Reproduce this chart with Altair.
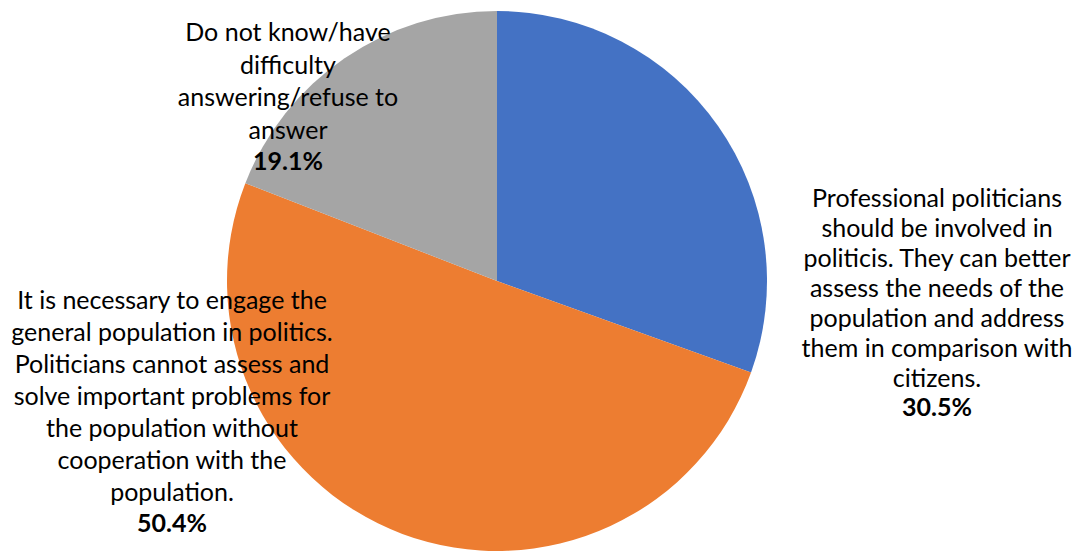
import altair as alt
import pandas as pd

categories = [
    "Professional politicians should be involved in politicis",
    "It is necessary to engage the general population in politics",
    "Do not know/have difficulty answering/refuse to answer",
]
shares = [30.5, 50.4, 19.1]
colors = ["#4472C4", "#ED7D31", "#A5A5A5"]
order = [1, 2, 3]

label_right = ["Professional politicians", "should be involved in", "politicis. They can better",
               "assess the needs of the", "population and address", "them in comparison with", "citizens."]
label_left = ["It is necessary to engage the", "general population in politics.",
              "Politicians cannot assess and", "solve important problems for",
              "the population without", "cooperation with the", "population."]
label_gray = ["Do not know/have", "difficulty", "answering/refuse to", "answer"]
pct_labels = ["30.5%", "50.4%", "19.1%"]

df = pd.DataFrame({"category": categories, "share": shares, "order": order})

OX, OY = 8, 8  # page margin offset
FONT = "Lato"
FS = 25

pie = alt.Chart(df).mark_arc(stroke="white", strokeWidth=0).encode(
    theta=alt.Theta("share:Q", stack=True),
    order=alt.Order("order:Q"),
    color=alt.Color("category:N", scale=alt.Scale(domain=categories, range=colors), legend=None),
    x=alt.value(497 - OX),
    y=alt.value(281 - OY),
    radius=alt.value(270),
)

def block(lines, cx, cy, lh):
    return alt.Chart(df).transform_filter("datum.order == 1").mark_text(
        text=lines, font=FONT, fontSize=FS, align="center", baseline="middle",
        lineHeight=lh, color="#000000"
    ).encode(x=alt.value(cx - OX), y=alt.value(cy - OY))

def pct(t, cx, cy):
    return alt.Chart(df).transform_filter("datum.order == 1").mark_text(
        text=t, font=FONT, fontSize=FS, fontWeight="bold", align="center", baseline="middle",
        color="#000000"
    ).encode(x=alt.value(cx - OX), y=alt.value(cy - OY))

chart = alt.layer(
    pie,
    block(label_gray, 288, 33, 32.5), pct(pct_labels[2], 288, 162),
    block(label_right, 937, 199, 30), pct(pct_labels[0], 937, 408),
    block(label_left, 172, 301, 32), pct(pct_labels[1], 172, 524),
).properties(
    width=1065, height=544, padding=0,
    autosize=alt.AutoSizeParams(type="none"),
).configure_view(stroke=None)

chart.save("out.html", embed_options={"renderer": "svg", "actions": False})
